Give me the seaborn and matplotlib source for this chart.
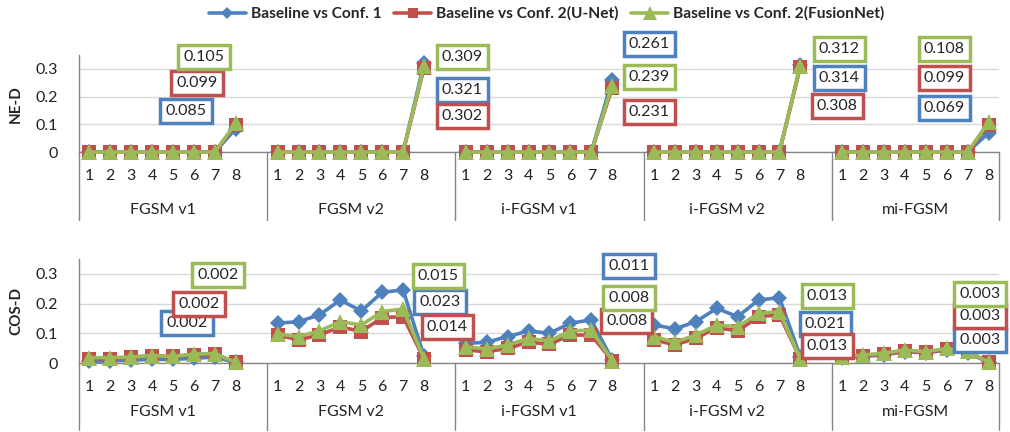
import matplotlib
matplotlib.use("Agg")
import matplotlib.pyplot as plt
from matplotlib.lines import Line2D
import numpy as np
import pandas as pd
import seaborn as sns

groups = ['FGSM v1', 'FGSM v2', 'i-FGSM v1', 'i-FGSM v2', 'mi-FGSM']
points = [1, 2, 3, 4, 5, 6, 7, 8]
series = ['Baseline vs Conf. 1', 'Baseline vs Conf. 2(U-Net)', 'Baseline vs Conf. 2(FusionNet)']

# NE-D values, one row per attack group
ned_conf1 = [[0, 0, 0, 0, 0, 0, 0, 0.085],
             [0, 0, 0, 0, 0, 0, 0, 0.321],
             [0, 0, 0, 0, 0, 0, 0, 0.261],
             [0, 0, 0, 0, 0, 0, 0, 0.314],
             [0, 0, 0, 0, 0, 0, 0, 0.069]]
ned_unet = [[0, 0, 0, 0, 0, 0, 0, 0.099],
            [0, 0, 0, 0, 0, 0, 0, 0.302],
            [0, 0, 0, 0, 0, 0, 0, 0.231],
            [0, 0, 0, 0, 0, 0, 0, 0.308],
            [0, 0, 0, 0, 0, 0, 0, 0.099]]
ned_fusion = [[0, 0, 0, 0, 0, 0, 0, 0.105],
              [0, 0, 0, 0, 0, 0, 0, 0.309],
              [0, 0, 0, 0, 0, 0, 0, 0.239],
              [0, 0, 0, 0, 0, 0, 0, 0.312],
              [0, 0, 0, 0, 0, 0, 0, 0.108]]

# COS-D values
cos_conf1 = [[0.006, 0.007, 0.010, 0.012, 0.012, 0.016, 0.020, 0.002],
             [0.134, 0.139, 0.162, 0.212, 0.175, 0.238, 0.246, 0.023],
             [0.066, 0.070, 0.089, 0.108, 0.100, 0.134, 0.145, 0.011],
             [0.128, 0.115, 0.139, 0.184, 0.156, 0.212, 0.220, 0.021],
             [0.018, 0.022, 0.028, 0.038, 0.034, 0.044, 0.035, 0.003]]
cos_unet = [[0.015, 0.014, 0.020, 0.024, 0.022, 0.028, 0.030, 0.002],
            [0.094, 0.078, 0.094, 0.122, 0.106, 0.153, 0.156, 0.014],
            [0.044, 0.038, 0.049, 0.070, 0.063, 0.094, 0.094, 0.008],
            [0.078, 0.061, 0.083, 0.119, 0.108, 0.156, 0.162, 0.013],
            [0.020, 0.025, 0.030, 0.040, 0.036, 0.046, 0.038, 0.003]]
cos_fusion = [[0.018, 0.018, 0.020, 0.025, 0.022, 0.030, 0.032, 0.002],
              [0.098, 0.089, 0.108, 0.139, 0.128, 0.173, 0.182, 0.015],
              [0.055, 0.047, 0.061, 0.083, 0.074, 0.108, 0.111, 0.008],
              [0.089, 0.070, 0.094, 0.128, 0.122, 0.167, 0.173, 0.013],
              [0.021, 0.027, 0.033, 0.044, 0.038, 0.049, 0.040, 0.003]]

# label box placement: x offset (in category slots) from point 8, and y
ned_lab_dx = [[-2.38, 1.83, 1.77, 1.86, -2.11],
              [-1.85, 1.83, 1.77, 1.77, -2.11],
              [-1.52, 1.83, 1.77, 1.86, -2.11]]
ned_lab_y = [[0.148, 0.224, 0.390, 0.267, 0.159],
             [0.249, 0.130, 0.144, 0.166, 0.267],
             [0.343, 0.343, 0.271, 0.372, 0.372]]
cos_lab_dx = [[-2.33, 0.77, 0.80, 1.19, -0.40],
              [-1.76, 1.11, 0.70, 1.29, -0.40],
              [-0.85, 0.68, 0.80, 1.29, -0.40]]
cos_lab_y = [[0.135, 0.205, 0.327, 0.131, 0.077],
             [0.199, 0.121, 0.141, 0.057, 0.158],
             [0.296, 0.293, 0.219, 0.226, 0.232]]

colors = ['#4F81BD', '#C0504D', '#9BBB59']
markers = ['D', 's', '^']
msizes = [8, 9.5, 12]

sns.set_style('white')
plt.rcParams['font.family'] = ['Lato', 'DejaVu Sans']

fig = plt.figure(figsize=(10.1, 4.32), dpi=100)
ax1 = fig.add_axes([0.0782, 0.648, 0.9109, 0.2245])
ax2 = fig.add_axes([0.0782, 0.1597, 0.9109, 0.2407])

gray = '#868686'


def draw_panel(ax, data, lab_dx, lab_y, ylabel, sep_y, grp_y):
    for s in range(3):
        for g in range(len(groups)):
            xs = [g * 9 + k for k in range(len(points))]
            sns.lineplot(x=xs, y=data[s][g], ax=ax, color=colors[s], marker=markers[s],
                         markersize=msizes[s], markeredgewidth=0, linewidth=2.6,
                         clip_on=False, zorder=3 + s)
        for g in range(len(groups)):
            v = data[s][g][-1]
            ax.text(g * 9 + 7 + lab_dx[s][g], lab_y[s][g], '%.3f' % v, ha='center', va='center',
                    fontsize=11.5, zorder=10 + s,
                    bbox=dict(boxstyle='square,pad=0.32', fc='white', ec=colors[s], lw=2.5))
    ax.set_xlim(-0.5, 43.5)
    ax.set_ylim(0, 0.35)
    ticks = [g * 9 + k for g in range(len(groups)) for k in range(len(points))]
    ax.set_xticks(ticks)
    ax.set_xticklabels([str(p) for g in groups for p in points], fontsize=11.5)
    ax.set_yticks([0, 0.1, 0.2, 0.3])
    ax.set_yticklabels(['0', '0.1', '0.2', '0.3'], fontsize=11.5)
    ax.tick_params(axis='x', length=0, pad=12, colors='#222222')
    ax.tick_params(axis='y', length=0, pad=15, colors='#222222')
    ax.yaxis.grid(True, color='#D9D9D9', lw=1)
    ax.set_axisbelow(True)
    for side in ['top', 'right']:
        ax.spines[side].set_visible(False)
    for side in ['left', 'bottom']:
        ax.spines[side].set_color(gray)
        ax.spines[side].set_linewidth(1)
    tr = ax.get_xaxis_transform()
    for b in [-0.5, 8.5, 17.5, 26.5, 35.5, 43.5]:
        ax.plot([b, b], [0, sep_y], transform=tr, color=gray, lw=1, clip_on=False)
    for g, name in enumerate(groups):
        ax.text(g * 9 + 3.5, grp_y, name, transform=tr, ha='center', va='center',
                fontsize=11.5, color='#222222')
    ax.set_xlabel('')
    ax.text(-63 / 920, 0.5, ylabel, transform=ax.transAxes, rotation=90, ha='center',
            va='center', fontsize=11, fontweight='bold')


draw_panel(ax1, [ned_conf1, ned_unet, ned_fusion], ned_lab_dx, ned_lab_y, 'NE-D', -0.70, -0.598)
draw_panel(ax2, [cos_conf1, cos_unet, cos_fusion], cos_lab_dx, cos_lab_y, 'COS-D', -0.645, -0.471)

handles = [Line2D([0], [0], color=colors[i], marker=markers[i], markersize=msizes[i] - 2,
                  markeredgewidth=0, lw=2.6) for i in range(3)]
fig.legend(handles, series, loc='center', bbox_to_anchor=(0.541, 0.968), ncol=3, frameon=False,
           prop={'weight': 'bold', 'size': 11.2}, handlelength=2.4, columnspacing=0.8,
           handletextpad=0.3)

fig.savefig('out.png', dpi=100)
